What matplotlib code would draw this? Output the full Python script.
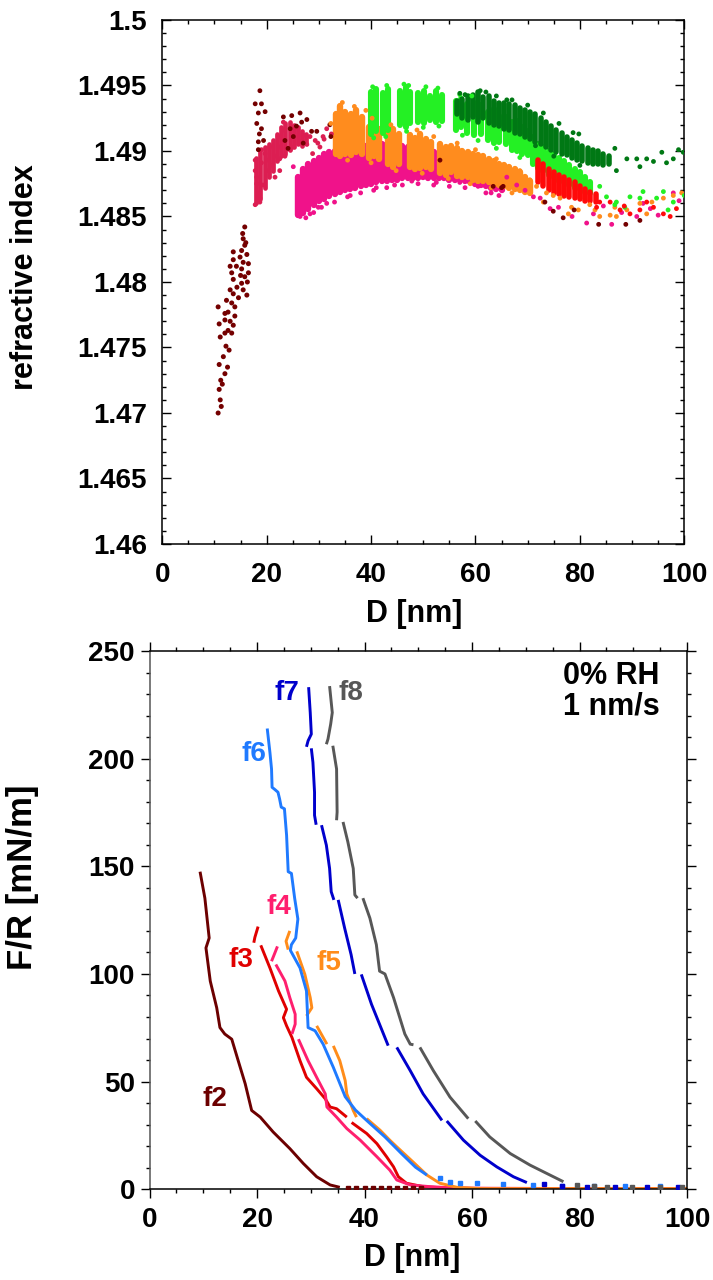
import numpy as np
import matplotlib
matplotlib.use("Agg")
import matplotlib.pyplot as plt
from matplotlib.ticker import MultipleLocator, FuncFormatter

plt.rcParams["font.family"] = ["Liberation Sans", "DejaVu Sans"]
plt.rcParams["font.weight"] = "bold"

# ------------------------------------------------------------------
# top panel: refractive index vs D (dense strips + single points)
# ------------------------------------------------------------------
pink_D = [26, 27, 28, 29, 30, 31, 32, 33, 34, 35, 36, 37, 38, 39, 40, 41, 42, 43, 44, 45,
          46, 47, 48, 49, 50, 51, 52, 53, 54, 55, 56, 57, 58, 59, 60, 61, 62, 63, 64, 65]
pink_lo = [1.4851, 1.4853, 1.4856, 1.4859, 1.4862, 1.4863, 1.4866, 1.4867, 1.4869, 1.4870,
           1.4871, 1.4872, 1.4873, 1.4874, 1.4875, 1.4876, 1.4877, 1.4877, 1.4878, 1.4878,
           1.4879, 1.4879, 1.4879, 1.4879, 1.4880, 1.4879, 1.4879, 1.4879, 1.4879, 1.4878,
           1.4878, 1.4878, 1.4877, 1.4876, 1.4875, 1.4874, 1.4873, 1.4872, 1.4871, 1.4870]
pink_hi = [1.4880, 1.4886, 1.4890, 1.4892, 1.4895, 1.4898, 1.4899, 1.4900, 1.4901, 1.4902,
           1.4902, 1.4903, 1.4903, 1.4904, 1.4904, 1.4904, 1.4905, 1.4905, 1.4904, 1.4904,
           1.4904, 1.4903, 1.4903, 1.4902, 1.4902, 1.4900, 1.4899, 1.4898, 1.4897, 1.4896,
           1.4895, 1.4894, 1.4893, 1.4891, 1.4890, 1.4888, 1.4886, 1.4885, 1.4883, 1.4881]
pink_pts_D = [25.1, 26.4, 28.3, 29.9, 47.8, 57.0, 60.5, 63.0, 66.0, 67.9, 69.5, 71.1, 72.4,
              74.3, 75.9, 78.5, 81.3, 82.6, 84.5, 86.1, 88.0, 90.9, 92.1, 93.5, 95.0, 97.9, 99.0,
              31.5, 36.0, 41.0, 44.5, 52.5, 27.5, 29.0, 30.5, 33.0, 35.5, 38.0, 40.5, 43.0,
              46.0, 49.0, 52.0, 55.0, 58.0, 62.0, 64.5]
pink_pts_n = [1.4888, 1.4850, 1.4852, 1.4857, 1.4877, 1.4876, 1.4873, 1.4868, 1.4880, 1.4874,
              1.4870, 1.4865, 1.4864, 1.4856, 1.4857, 1.4850, 1.4845, 1.4852, 1.4858, 1.4844,
              1.4853, 1.4850, 1.4860, 1.4856, 1.4851, 1.4868, 1.4862,
              1.4860, 1.4866, 1.4872, 1.4874, 1.4876, 1.4849, 1.4853, 1.4857, 1.4861, 1.4865,
              1.4868, 1.4870, 1.4872, 1.4874, 1.4875, 1.4874, 1.4873, 1.4872, 1.4868, 1.4866]

crimson_D = [18.0, 18.8, 19.6, 20.4, 21.2, 22.0, 22.8, 23.6, 24.4, 25.2, 26.0, 26.8, 27.6]
crimson_lo = [1.4860, 1.4863, 1.4872, 1.4880, 1.4885, 1.4892, 1.4896, 1.4898, 1.4901, 1.4903,
              1.4905, 1.4904, 1.4906]
crimson_hi = [1.4895, 1.4900, 1.4903, 1.4905, 1.4908, 1.4913, 1.4918, 1.4921, 1.4922, 1.4920,
              1.4918, 1.4915, 1.4913]
crimson_pts_D = [17.8, 18.7, 18.4, 18.1, 19.3, 17.8, 20.0, 19.0, 21.0, 17.8, 21.9, 19.7, 20.6,
                 22.5, 22.2, 23.2, 21.6, 22.5, 25.1, 26.4, 27.7, 23.2, 24.5, 28.3, 29.3, 30.8,
                 31.5, 32.4, 30.2, 22.5, 23.5, 18.7, 18.1, 19.0, 20.3, 27.0, 28.8, 29.8, 31.0]
crimson_pts_n = [1.4859, 1.4861, 1.4868, 1.4875, 1.4874, 1.4885, 1.4885, 1.4891, 1.4889, 1.4893,
                 1.4896, 1.4898, 1.4903, 1.4903, 1.4911, 1.4916, 1.4880, 1.4885, 1.4903, 1.4907,
                 1.4905, 1.4922, 1.4901, 1.4911, 1.4908, 1.4911, 1.4917, 1.4913, 1.4903, 1.4894,
                 1.4896, 1.4864, 1.4880, 1.4901, 1.4893, 1.4912, 1.4898, 1.4906, 1.4909]

maroon_low_D = [10.7, 11.1, 10.9, 11.2, 12.0, 10.9, 11.7, 12.2, 11.1, 12.0, 12.6, 13.3, 10.9,
                12.0, 13.6, 10.7, 12.0, 12.6, 13.9, 12.3, 13.3, 13.9, 13.6, 13.0, 14.3, 13.6,
                13.3, 13.0, 13.6, 15.5, 16.2, 15.2, 15.8, 16.5, 15.2, 15.5, 16.2, 15.2, 15.8,
                15.5, 15.4, 15.8, 13.6, 14.9, 16.5, 11.5, 12.8, 13.0, 14.6, 15.0, 16.0, 14.2,
                12.5, 11.3, 16.3]
maroon_low_n = [1.4700, 1.4710, 1.4718, 1.4725, 1.4730, 1.4737, 1.4743, 1.4751, 1.4758, 1.4761,
                1.4763, 1.4761, 1.4768, 1.4771, 1.4767, 1.4781, 1.4776, 1.4777, 1.4774, 1.4786,
                1.4784, 1.4781, 1.4791, 1.4794, 1.4796, 1.4802, 1.4807, 1.4812, 1.4817, 1.4794,
                1.4790, 1.4799, 1.4804, 1.4807, 1.4810, 1.4815, 1.4821, 1.4824, 1.4828, 1.4833,
                1.4837, 1.4842, 1.4823, 1.4819, 1.4814, 1.4722, 1.4748, 1.4770, 1.4788, 1.4805,
                1.4830, 1.4812, 1.4735, 1.4705, 1.4800]
maroon_up_D = [18.7, 17.8, 19.0, 18.4, 19.7, 18.1, 19.0, 18.6, 18.4, 19.4, 18.4, 23.2, 24.8,
               26.4, 26.7, 27.7, 25.7, 24.5, 25.1, 24.1, 29.6, 23.5, 27.0, 28.6, 32.1, 32.3]
maroon_up_n = [1.4946, 1.4936, 1.4936, 1.4929, 1.4930, 1.4921, 1.4917, 1.4913, 1.4907, 1.4908,
               1.4901, 1.4926, 1.4927, 1.4929, 1.4922, 1.4924, 1.4919, 1.4917, 1.4911, 1.4902,
               1.4915, 1.4908, 1.4906, 1.4915, 1.4920, 1.4911]
maroon_pts_D = [53.2, 63.4, 65.0, 65.3, 73.3, 74.9, 76.8, 78.9, 83.6, 88.8, 91.5]
maroon_pts_n = [1.4893, 1.4873, 1.4872, 1.4873, 1.4861, 1.4854, 1.4849, 1.4855, 1.4844, 1.4844, 1.4847]

orange_D = [33.2, 34.0, 35.0, 36.2, 37.2, 38.2, 39.6, 40.6, 41.6, 43.2, 44.2, 45.3, 47.4, 48.4,
            49.4, 50.5, 51.5, 53.3, 54.3, 55.3, 56.4, 57.5, 58.5, 59.5, 60.5, 61.5, 62.5, 63.5,
            64.5, 65.5, 66.5, 67.5, 68.5, 69.5, 70.5]
orange_lo = [1.4898, 1.4896, 1.4898, 1.4897, 1.4899, 1.4898, 1.4895, 1.4896, 1.4894, 1.4890,
             1.4888, 1.4890, 1.4888, 1.4886, 1.4887, 1.4888, 1.4886, 1.4883, 1.4882, 1.4884,
             1.4881, 1.4880, 1.4880, 1.4878, 1.4877, 1.4877, 1.4876, 1.4875, 1.4874, 1.4873,
             1.4872, 1.4871, 1.4870, 1.4869, 1.4868]
orange_hi = [1.4928, 1.4934, 1.4930, 1.4928, 1.4931, 1.4926, 1.4918, 1.4922, 1.4917, 1.4915,
             1.4917, 1.4913, 1.4912, 1.4910, 1.4913, 1.4909, 1.4907, 1.4905, 1.4903, 1.4904,
             1.4902, 1.4900, 1.4899, 1.4898, 1.4897, 1.4896, 1.4894, 1.4892, 1.4890, 1.4889,
             1.4888, 1.4886, 1.4884, 1.4880, 1.4877]
orange_pts_D = [71.7, 73.6, 74.9, 73.0, 76.2, 78.4, 79.7, 77.8, 81.9, 82.9, 85.8, 87.0, 89.0,
                91.5, 93.8, 96.0, 97.9, 99.5, 68.5, 70.4, 67.3, 86.7, 83.8, 92.8, 32.3, 39.0,
                34.5, 36.8, 40.2, 43.8, 48.8, 52.0, 56.5, 60.0, 64.0,
                35.5, 40.0, 44.8, 49.8, 54.8, 59.0, 63.0, 67.0]
orange_pts_n = [1.4873, 1.4868, 1.4866, 1.4861, 1.4864, 1.4857, 1.4855, 1.4852, 1.4859, 1.4855,
                1.4851, 1.4850, 1.4855, 1.4860, 1.4861, 1.4864, 1.4866, 1.4868, 1.4885, 1.4878,
                1.4880, 1.4857, 1.4850, 1.4852, 1.4921, 1.4931,
                1.4937, 1.4934, 1.4925, 1.4920, 1.4916, 1.4911, 1.4906, 1.4901, 1.4894,
                1.4893, 1.4891, 1.4885, 1.4883, 1.4879, 1.4875, 1.4872, 1.4868]

lgreen_D = [40.0, 40.9, 42.3, 43.3, 45.6, 46.6, 47.5, 49.0, 50.2, 51.2, 52.4, 53.6, 56.2, 57.3,
            58.4, 59.8, 61.0, 62.4, 63.5, 64.6, 65.8, 67.0, 68.0, 69.0, 70.0, 71.0, 72.0, 73.0,
            74.0, 75.0, 76.0, 77.0, 78.0, 79.0, 80.0, 81.0, 82.0]
lgreen_lo = [1.4913, 1.4915, 1.4914, 1.4916, 1.4920, 1.4918, 1.4921, 1.4922, 1.4921, 1.4924,
             1.4922, 1.4923, 1.4916, 1.4918, 1.4914, 1.4912, 1.4913, 1.4908, 1.4906, 1.4907,
             1.4905, 1.4901, 1.4900, 1.4898, 1.4897, 1.4890, 1.4887, 1.4885, 1.4882, 1.4880,
             1.4877, 1.4876, 1.4874, 1.4872, 1.4871, 1.4869, 1.4868]
lgreen_hi = [1.4945, 1.4947, 1.4944, 1.4947, 1.4946, 1.4949, 1.4945, 1.4944, 1.4946, 1.4942,
             1.4946, 1.4943, 1.4938, 1.4940, 1.4936, 1.4937, 1.4935, 1.4930, 1.4932, 1.4927,
             1.4926, 1.4922, 1.4923, 1.4918, 1.4915, 1.4911, 1.4905, 1.4903, 1.4900, 1.4898,
             1.4895, 1.4892, 1.4889, 1.4886, 1.4884, 1.4880, 1.4876]
lgreen_pts_D = [83.8, 85.1, 87.0, 89.6, 91.5, 92.1, 94.7, 96.0, 96.9, 97.9, 100.0, 86.7, 88.6,
                40.3, 43.0, 46.3, 47.2, 50.5, 52.8, 57.0, 59.3,
                40.5, 42.8, 46.8, 50.0, 53.0, 57.5, 60.5, 64.0, 68.5]
lgreen_pts_n = [1.4873, 1.4865, 1.4861, 1.4865, 1.4864, 1.4869, 1.4864, 1.4869, 1.4855, 1.4861,
                1.4866, 1.4859, 1.4857,
                1.4949, 1.4950, 1.4951, 1.4950, 1.4949, 1.4948, 1.4943, 1.4942,
                1.4910, 1.4911, 1.4915, 1.4918, 1.4919, 1.4912, 1.4908, 1.4902, 1.4895]

dgreen_D = [56.5, 57.5, 58.5, 59.5, 60.5, 61.5, 62.5, 63.5, 64.5, 65.5, 66.5, 67.5, 68.5, 69.5,
            70.5, 71.5, 72.5, 73.5, 74.5, 75.5, 76.5, 77.5, 78.5, 79.5, 80.5, 81.5, 82.5, 83.5,
            84.5, 85.5]
dgreen_lo = [1.4928, 1.4925, 1.4924, 1.4926, 1.4922, 1.4925, 1.4921, 1.4920, 1.4919, 1.4917,
             1.4916, 1.4914, 1.4913, 1.4911, 1.4909, 1.4907, 1.4905, 1.4903, 1.4901, 1.4899,
             1.4898, 1.4897, 1.4895, 1.4893, 1.4892, 1.4891, 1.4890, 1.4890, 1.4889, 1.4890]
dgreen_hi = [1.4938, 1.4940, 1.4942, 1.4943, 1.4945, 1.4941, 1.4942, 1.4938, 1.4937, 1.4937,
             1.4936, 1.4935, 1.4933, 1.4931, 1.4930, 1.4928, 1.4925, 1.4922, 1.4919, 1.4916,
             1.4914, 1.4911, 1.4908, 1.4906, 1.4904, 1.4902, 1.4901, 1.4900, 1.4898, 1.4896]
dgreen_pts_D = [89.0, 90.9, 92.8, 94.1, 95.7, 96.6, 97.9, 98.9, 99.8, 91.5, 86.7, 79.8, 87.0,
                60.9, 58.0, 66.0, 57.0, 62.0, 64.0, 67.0, 70.0, 73.0, 76.0, 78.7, 71.5, 75.0,
                80.0]
dgreen_pts_n = [1.4894, 1.4894, 1.4894, 1.4892, 1.4899, 1.4891, 1.4894, 1.4901, 1.4899, 1.4888,
                1.4902, 1.4913, 1.4885, 1.4946, 1.4943, 1.4939, 1.4944, 1.4945, 1.4942, 1.4939,
                1.4935, 1.4929, 1.4921, 1.4914, 1.4904, 1.4896, 1.4889]

red_D = [72.0, 73.0, 74.0, 75.0, 76.0, 77.0, 78.0, 79.0, 80.0, 81.0, 82.0, 83.0]
red_lo = [1.4876, 1.4873, 1.4870, 1.4868, 1.4867, 1.4866, 1.4865, 1.4864, 1.4863, 1.4862, 1.4862, 1.4861]
red_hi = [1.4893, 1.4890, 1.4886, 1.4884, 1.4882, 1.4880, 1.4878, 1.4876, 1.4873, 1.4871, 1.4869, 1.4867]
red_pts_D = [85.8, 87.7, 89.6, 91.5, 92.8, 94.1, 96.0, 97.3, 83.2, 83.8, 88.5, 98.5]
red_pts_n = [1.4861, 1.4855, 1.4852, 1.4855, 1.4861, 1.4857, 1.4852, 1.4850, 1.4857, 1.4861,
             1.4858, 1.4856]

# ------------------------------------------------------------------
# bottom panel: F/R vs D (nan = gap in the trace)
# ------------------------------------------------------------------
nan = np.nan
f2_D = [9.4, 10.3, 11.1, 10.5, 11.3, 12.5, 13.1, 14.0, 15.3, 16.5, 17.8, 19.0, 20.6, 23.0,
        26.1, 28.6, 31.1, 33.6, 35.4]
f2_F = [147.5, 135.2, 116.7, 112.1, 96.7, 84.3, 75.1, 72.1, 69.7, 59.7, 49.0, 36.6, 33.5, 26.6,
        18.9, 12.0, 5.8, 2.0, 0.9]
f2_tail_D = [37.0, 38.5, 40.0, 41.5, 43.0, 44.5, 46.0, 47.5, 49.0, 50.5]
f2_tail_F = [0.6, 0.6, 0.6, 0.6, 0.6, 0.6, 0.6, 0.6, 0.6, 0.6]

f3_D = [20.2, 19.6, 19.4, nan, 20.7, 22.4, 24.0, 25.5, 24.9, 25.5, 26.5, 28.0, 29.2, 31.1, 32.7,
        33.6, 34.8, 36.7, nan, 37.6, 40.4, 42.3, 44.1, 45.4, 46.3, 47.8, 50.9, 55, 60, 70, 80, 90, 100]
f3_F = [122.0, 117.0, 114.5, nan, 113.3, 102.8, 92.1, 83.6, 79.7, 75.9, 70.5, 59.7, 52.0, 46.7,
        42.0, 38.2, 37.4, 33.5, nan, 31.0, 25.9, 21.2, 15.1, 10.4, 5.8, 2.8, 1.2, 0.6, 0.4, 0.3,
        0.3, 0.3, 0.3]

f4_D = [23.8, 23.2, 22.7, nan, 23.5, 25.2, 26.1, 27.1, 27.1, 26.5, nan, 27.7, 29.5, 31.4, 32.7,
        33.0, 34.8, 36.7, 39.2, 42.3, 44.7, 46.0, 48.5, 52.2, 56, 60, 70, 80, 90, 100]
f4_F = [112.8, 109.0, 105.9, nan, 104.4, 96.7, 89.0, 81.3, 76.7, 72.1, nan, 69.7, 59.7, 50.5,
        44.3, 38.2, 33.5, 28.2, 22.8, 15.1, 8.9, 4.3, 2.0, 1.2, 0.7, 0.5, 0.4, 0.3, 0.3, 0.3]

f5_D = [26.1, 25.4, 25.8, nan, 27.4, 28.9, 29.9, 30.2, 29.2, nan, 31.1, 33.0, nan, 34.2, 35.4,
        36.4, 36.7, 37.9, 38.5, nan, 40.4, 42.9, 44.7, 46.0, 49.1, 51.6, 54.0, 57.2, 61.5, 70, 80,
        90, 100]
f5_F = [120.0, 115.2, 111.3, nan, 110.5, 99.8, 89.0, 84.3, 80.5, nan, 75.9, 67.4, nan, 66.6,
        59.7, 50.5, 44.3, 36.6, 33.5, nan, 32.8, 27.4, 22.8, 19.7, 12.5, 6.6, 2.8, 0.9, 0.3, 0.3,
        0.3, 0.3, 0.3]

f6_D = [21.9, 22.4, 22.7, 22.8, 23.3, 23.9, 24.2, 24.5, 25.1, 25.5, 25.8, 26.4, 27.0, 27.6,
        27.2, 26.4, 26.2, 28.0, 29.2, 29.5, 30.8, 32.3, 34.2, 36.4, 38.3, 40.6, 43.8, 46.9, 49.5,
        51.6]
f6_F = [214.0, 202.9, 195.2, 186.7, 185.7, 184.4, 181.3, 177.5, 176.7, 164.4, 147.5, 146.7,
        135.2, 125.5, 116.7, 113.6, 111.0, 102.8, 92.1, 75.1, 73.6, 67.4, 56.6, 43.0, 36.8, 31.5,
        24.3, 16.5, 10.2, 6.6]
f6_tail_D = [54.0, 55.9, 57.8, 60.9, 65.8, 71.4, 76.7, 82.6, 88.5, 95.0]
f6_tail_F = [5.1, 3.5, 3.1, 2.8, 2.3, 2.0, 1.7, 1.7, 1.7, 1.7]

f7_D = [29.6, 29.9, 30.1, 29.5, 29.2, nan, 30.1, 30.4, 30.7, 30.7, 31.0, nan, 32.0, 32.9, 33.5,
        33.8, 34.3, nan, 35.1, 36.3, 37.5, 38.2, nan, 39.4, 41.3, 44.4, nan, 46.0, 48.5, 50.9,
        54.4, nan, 55.3, 58.4, 61.5, 64.6, 67.7, 70.2]
f7_F = [233.2, 221.4, 211.4, 208.3, 205.5, nan, 204.8, 198.3, 184.4, 173.7, 169.3, nan, 169.1,
        159.8, 149.0, 138.2, 134.4, nan, 134.4, 121.3, 109.0, 100.0, nan, 99.8, 85.9, 66.7, nan,
        65.9, 55.1, 44.3, 32.0, nan, 31.7, 22.8, 15.8, 10.4, 5.8, 3.1]
f7_tail_D = [73.3, 76.7, 81.3, 86.6, 92.5, 98.4]
f7_tail_F = [2.3, 1.7, 1.2, 1.2, 1.2, 0.9]

f8_D = [33.5, 34.0, 33.7, 33.2, 32.9, nan, 34.1, 34.8, 34.9, 34.8, nan, 36.0, 36.9, 37.9, 38.2,
        38.7, nan, 39.7, 41.0, 42.2, 42.8, 43.8, 45.4, 47.5, 48.5, 49.1, nan, 50.3, 52.8, 55.9,
        59.3, nan, 60.6, 63.3, 67.1, 70.8, 74.5, 77.0]
f8_F = [233.7, 221.4, 216.0, 209.1, 206.7, nan, 206.0, 195.2, 175.2, 171.4, nan, 170.6, 161.3,
        149.0, 136.7, 135.2, nan, 135.2, 125.9, 113.6, 101.3, 100.0, 89.0, 72.1, 67.4, 67.1, nan,
        65.9, 55.1, 42.8, 32.8, nan, 31.7, 24.3, 16.6, 11.2, 6.6, 3.5]
f8_tail_D = [79.5, 82.6, 85.1, 89.7, 95.0, 99.0]
f8_tail_F = [2.0, 1.5, 1.2, 1.2, 1.2, 0.9]

curve_names = ["f2", "f3", "f4", "f5", "f6", "f7", "f8"]
label_D = [12.2, 17.0, 24.0, 33.3, 19.4, 25.5, 37.5]
label_F = [42.0, 106.7, 131.3, 105.1, 202.0, 230.3, 230.6]

# colours
C_MAROON = "#740000"
C_CRIMSON = "#dc1e52"
C_PINK = "#f0128a"
C_ORANGE = "#ff8c1e"
C_LGREEN = "#24f024"
C_DGREEN = "#007814"
C_RED = "#ff0a0a"

F_COLORS = ["#6c0000", "#e00000", "#ff1f6e", "#ff8c1a", "#1f7aff", "#0000cc", "#575757"]


def strips(ax, D, lo, hi, color, lw=3.3):
    lc = ax.vlines(D, lo, hi, colors=color, linewidth=lw)
    lc.set_capstyle("round")


def dots(ax, D, n, color, s=12):
    ax.scatter(D, n, s=s, color=color, edgecolors="none", zorder=3)


def trim_fmt(v, pos):
    return f"{v:g}"


fig = plt.figure(figsize=(7.13, 12.8), dpi=100)

# ---------------- top panel ----------------
ax1 = fig.add_axes([0.2276, 0.5750, 0.7321, 0.4094])

strips(ax1, pink_D, pink_lo, pink_hi, C_PINK, lw=4.6)
dots(ax1, pink_pts_D, pink_pts_n, C_PINK)
strips(ax1, crimson_D, crimson_lo, crimson_hi, C_CRIMSON, lw=3.4)
dots(ax1, crimson_pts_D, crimson_pts_n, C_CRIMSON)
dots(ax1, maroon_low_D, maroon_low_n, C_MAROON, s=13)
dots(ax1, maroon_up_D, maroon_up_n, C_MAROON)
strips(ax1, orange_D, orange_lo, orange_hi, C_ORANGE, lw=4.6)
dots(ax1, orange_pts_D, orange_pts_n, C_ORANGE)
strips(ax1, lgreen_D, lgreen_lo, lgreen_hi, C_LGREEN, lw=4.4)
dots(ax1, lgreen_pts_D, lgreen_pts_n, C_LGREEN)
strips(ax1, dgreen_D, dgreen_lo, dgreen_hi, C_DGREEN, lw=4.0)
dots(ax1, dgreen_pts_D, dgreen_pts_n, C_DGREEN)
strips(ax1, red_D, red_lo, red_hi, C_RED, lw=4.0)
dots(ax1, red_pts_D, red_pts_n, C_RED)
dots(ax1, maroon_pts_D, maroon_pts_n, C_MAROON)

ax1.set_xlim(0, 100)
ax1.set_ylim(1.46, 1.5)
ax1.xaxis.set_major_locator(MultipleLocator(20))
ax1.xaxis.set_minor_locator(MultipleLocator(5))
ax1.yaxis.set_major_locator(MultipleLocator(0.005))
ax1.yaxis.set_minor_locator(MultipleLocator(0.001))
ax1.yaxis.set_major_formatter(FuncFormatter(trim_fmt))
ax1.tick_params(which="both", direction="in", top=True, right=True, width=1.0,
                labelsize=20)
ax1.tick_params(which="major", length=6.7)
ax1.tick_params(which="minor", length=3.1)
ax1.tick_params(axis="x", pad=13)
ax1.tick_params(axis="y", pad=11)
for sp in ax1.spines.values():
    sp.set_linewidth(1.1)
ax1.set_xlabel("D [nm]", fontsize=22, fontweight="bold")
ax1.set_ylabel("refractive index", fontsize=22, fontweight="bold")
ax1.xaxis.set_label_coords(0.482, -0.105)
ax1.yaxis.set_label_coords(-0.235, 0.51)

# ---------------- bottom panel ----------------
ax2 = fig.add_axes([0.2097, 0.0709, 0.7539, 0.4205])

curves_D = [f2_D, f3_D, f4_D, f5_D, f6_D, f7_D, f8_D]
curves_F = [f2_F, f3_F, f4_F, f5_F, f6_F, f7_F, f8_F]
for D, F, c in zip(curves_D, curves_F, F_COLORS):
    ax2.plot(D, F, color=c, linewidth=2.1, solid_capstyle="butt", zorder=2)

tails = [(f2_tail_D, f2_tail_F, F_COLORS[0]),
         (f6_tail_D, f6_tail_F, F_COLORS[4]),
         (f7_tail_D, f7_tail_F, F_COLORS[5]),
         (f8_tail_D, f8_tail_F, F_COLORS[6])]
for D, F, c in tails:
    ax2.plot(D, F, linestyle="none", marker="s", markersize=2.6, color=c, zorder=3)

for name, x, y, c in zip(curve_names, label_D, label_F, F_COLORS):
    ax2.text(x, y, name, color=c, fontsize=20, fontweight="bold", ha="center", va="center")

ax2.text(85.9, 231.4, "0% RH\n1 nm/s", fontsize=22, fontweight="bold", ha="center",
         va="center", linespacing=1.0)

ax2.set_xlim(0, 100)
ax2.set_ylim(0, 250)
ax2.xaxis.set_major_locator(MultipleLocator(20))
ax2.xaxis.set_minor_locator(MultipleLocator(5))
ax2.yaxis.set_major_locator(MultipleLocator(50))
ax2.yaxis.set_minor_locator(MultipleLocator(10))
ax2.tick_params(which="both", direction="out", top=True, right=True, width=1.0,
                labelsize=20)
ax2.tick_params(which="major", length=6.5)
ax2.tick_params(which="minor", length=2.9)
ax2.tick_params(axis="x", pad=6)
ax2.tick_params(axis="y", pad=4)
for sp in ax2.spines.values():
    sp.set_linewidth(1.1)
ax2.spines["left"].set_color("#555555")
ax2.set_xlabel("D [nm]", fontsize=22, fontweight="bold")
ax2.set_ylabel("F/R [mN/m]", fontsize=25, fontweight="bold")
ax2.xaxis.set_label_coords(0.488, -0.100)
ax2.yaxis.set_label_coords(-0.205, 0.58)

fig.savefig("out.png", dpi=100)
